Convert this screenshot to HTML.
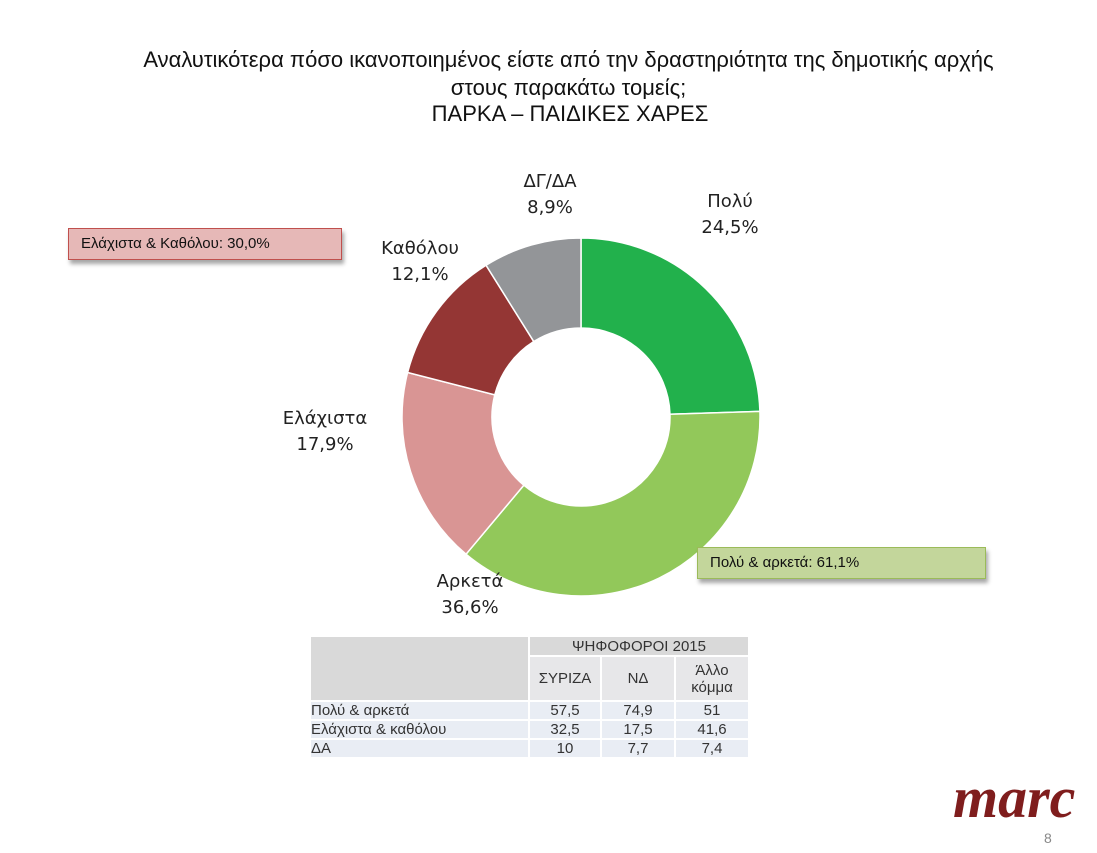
<!DOCTYPE html>
<html><head><meta charset="utf-8">
<style>
body{margin:0;width:1097px;height:853px;background:#fff;position:relative;overflow:hidden;font-family:"Liberation Sans","Noto Sans CJK SC",sans-serif;color:#111}
.t{position:absolute;left:0;width:1137px;text-align:center;font-size:22px;line-height:24px}
.lab{position:absolute;font-family:"DejaVu Sans","Liberation Sans",sans-serif;font-size:18px;line-height:26px;text-align:center;color:#222}
.box{position:absolute;font-size:15px;padding-left:12px;line-height:30px;box-shadow:2px 4px 4px rgba(0,0,0,.35)}
table{position:absolute;left:309px;top:635px;border-collapse:collapse;font-size:15px;color:#333}
td{padding:0 4px;text-align:center;border:2px solid #fff}
</style></head><body>
<div class="t" style="top:48px">Αναλυτικότερα πόσο ικανοποιημένος είστε από την δραστηριότητα της δημοτικής αρχής</div>
<div class="t" style="top:76px;width:1137px">στους παρακάτω τομείς;</div>
<div class="t" style="top:102px;width:1140px">ΠΑΡΚΑ – ΠΑΙΔΙΚΕΣ ΧΑΡΕΣ</div>
<svg id="donut" width="1097" height="853" style="position:absolute;left:0;top:0"></svg>
<div id="labels"></div>
<div class="box" style="left:68px;top:228px;width:260px;background:#e6b8b7;border:1px solid #c0504d">Ελάχιστα &amp; Καθόλου: 30,0%</div>
<div class="box" style="left:697px;top:547px;width:275px;background:#c3d69b;border:1px solid #9bbb59">Πολύ &amp; αρκετά: 61,1%</div>
<table>
<tr style="height:20px"><td rowspan="2" style="width:209px;background:#d9d9d9"></td><td colspan="3" style="background:#d9d9d9;font-size:15px">ΨΗΦΟΦΟΡΟΙ 2015</td></tr>
<tr style="height:45px;background:#e7e7e9"><td style="width:62px">ΣΥΡΙΖΑ</td><td style="width:64px">ΝΔ</td><td style="width:64px;line-height:17px">Άλλο<br>κόμμα</td></tr>
<tr style="height:19px;background:#e9edf4"><td style="text-align:left;padding-left:0">Πολύ &amp; αρκετά</td><td>57,5</td><td>74,9</td><td>51</td></tr>
<tr style="height:19px;background:#e9edf4"><td style="text-align:left;padding-left:0">Ελάχιστα &amp; καθόλου</td><td>32,5</td><td>17,5</td><td>41,6</td></tr>
<tr style="height:19px;background:#e9edf4"><td style="text-align:left;padding-left:0">ΔΑ</td><td>10</td><td>7,7</td><td>7,4</td></tr>
</table>
<div style="position:absolute;left:953px;top:764px;font-family:'Liberation Serif',serif;font-style:italic;font-weight:bold;font-size:58px;color:#7f1d1d;letter-spacing:0px">marc</div>
<div style="position:absolute;left:1044px;top:830px;font-size:14px;color:#888">8</div>
<script>
const categories=["Πολύ","Αρκετά","Ελάχιστα","Καθόλου","ΔΓ/ΔΑ"];
const values=[24.5,36.6,17.9,12.1,8.9];
const valueLabels=["24,5%","36,6%","17,9%","12,1%","8,9%"];
const colors=["#22b14c","#92c85a","#d99594","#943634","#939598"];
const cx=581,cy=417,R=179,r=89;
const total=values.reduce((a,b)=>a+b,0);
const svg=document.getElementById('donut');
const ns="http://www.w3.org/2000/svg";
function pt(a,rad){return [cx+rad*Math.sin(a),cy-rad*Math.cos(a)];}
let acc=0;
const labelPos=[[730,215],[470,595],[325,432],[420,262],[550,195]];
values.forEach((v,i)=>{
  const a0=acc/total*2*Math.PI;acc+=v;const a1=acc/total*2*Math.PI;
  const lg=(a1-a0)>Math.PI?1:0;
  const p0=pt(a0,R),p1=pt(a1,R),q1=pt(a1,r),q0=pt(a0,r);
  const p=document.createElementNS(ns,'path');
  p.setAttribute('d',`M${p0} A${R},${R} 0 ${lg} 1 ${p1} L${q1} A${r},${r} 0 ${lg} 0 ${q0} Z`);
  p.setAttribute('fill',colors[i]);p.setAttribute('stroke','#fff');p.setAttribute('stroke-width','1.5');
  
  
  svg.appendChild(p);
  const d=document.createElement('div');d.className='lab';
  d.style.left=(labelPos[i][0]-55)+'px';d.style.top=(labelPos[i][1]-26)+'px';d.style.width='110px';
  d.innerHTML=categories[i]+'<br>'+valueLabels[i];
  
  
  document.getElementById('labels').appendChild(d);
});
</script>
</body></html>
